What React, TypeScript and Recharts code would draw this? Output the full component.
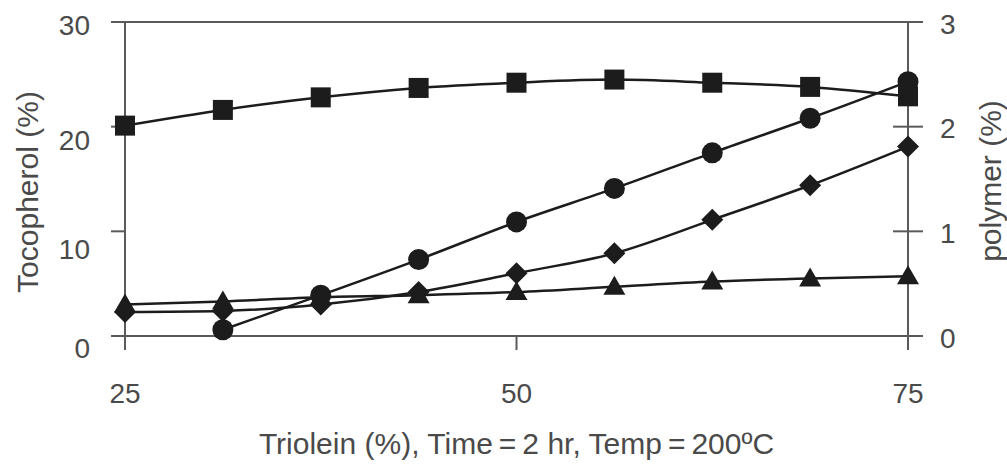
import React from "react";
import { LineChart, Line, XAxis, YAxis, ReferenceLine, Label } from "recharts";

// Triolein share of the blend (%)
const triolein = [25, 31.25, 37.5, 43.75, 50, 56.25, 62.5, 68.75, 75];
// Tocopherol (%), left axis
const tocopherol = [20.1, 21.6, 22.8, 23.7, 24.2, 24.5, 24.2, 23.8, 22.9];
// Polymer (%), right axis
const polymerCircle = [null, 0.06, 0.39, 0.73, 1.09, 1.41, 1.75, 2.08, 2.43];
const polymerDiamond = [0.23, 0.24, 0.3, 0.42, 0.6, 0.79, 1.11, 1.44, 1.81];
const polymerTriangle = [0.3, 0.33, 0.37, 0.39, 0.42, 0.47, 0.52, 0.55, 0.57];

const xTicks = [25, 50, 75];
const leftTicks = [0, 10, 20, 30];
const rightTicks = [0, 1, 2, 3];

const rows = triolein.map((x, i) => ({
    x,
    toco: tocopherol[i],
    circle: polymerCircle[i],
    diamond: polymerDiamond[i],
    triangle: polymerTriangle[i],
}));

const FONT = '"Liberation Sans", Arial, sans-serif';
const INK = "#1c1c1c";
const AXIS = "#5a5a5a";
const TEXT = "#4a4a4a";

// left labels sit a little below their tick marks
const leftLabelShift: Record<number, number> = { 0: 12, 10: 18, 20: 14, 30: 3 };

const LeftTick = (props: any) => {
    const { x, y, payload } = props;
    return (
        <text x={x} y={y + (leftLabelShift[payload.value] ?? 0)} textAnchor="end" dominantBaseline="central"
            fontFamily={FONT} fontSize={28} fill={TEXT}>
            {payload.value}
        </text>
    );
};

// right axis ticks cross the axis line
const RightTick = (props: any) => {
    const { x, y, payload } = props;
    const axisX = x - 17 - 15;
    return (
        <g>
            <line x1={axisX - 15} x2={axisX + 15} y1={y} y2={y} stroke={AXIS} strokeWidth={2} />
            <text x={x} y={y + 2} textAnchor="start" dominantBaseline="central"
                fontFamily={FONT} fontSize={28} fill={TEXT}>
                {payload.value}
            </text>
        </g>
    );
};

const squareDot = (p: any) =>
    p.cx == null || p.cy == null ? <g key={`s-${p.index}`} /> :
        <rect key={`s-${p.index}`} x={p.cx - 10} y={p.cy - 10} width={20} height={20} fill={INK} />;

const circleDot = (p: any) =>
    p.cx == null || p.cy == null || p.value == null ? <g key={`c-${p.index}`} /> :
        <circle key={`c-${p.index}`} cx={p.cx} cy={p.cy} r={10.5} fill={INK} />;

const diamondDot = (p: any) =>
    p.cx == null || p.cy == null ? <g key={`d-${p.index}`} /> :
        <polygon key={`d-${p.index}`} fill={INK}
            points={`${p.cx},${p.cy - 11} ${p.cx + 11},${p.cy} ${p.cx},${p.cy + 11} ${p.cx - 11},${p.cy}`} />;

const triangleDot = (p: any) =>
    p.cx == null || p.cy == null ? <g key={`t-${p.index}`} /> :
        <polygon key={`t-${p.index}`} fill={INK}
            points={`${p.cx},${p.cy - 11} ${p.cx + 11},${p.cy + 8} ${p.cx - 11},${p.cy + 8}`} />;

const leftTitle = (props: any) => {
    const vb = props.viewBox;
    const cx = vb.x + 27;
    const cy = vb.y + vb.height / 2 + 13;
    return (
        <text x={cx} y={cy} transform={`rotate(-90 ${cx} ${cy})`} textAnchor="middle" dominantBaseline="central"
            fontFamily={FONT} fontSize={30} fill={TEXT}>
            Tocopherol (%)
        </text>
    );
};

const rightTitle = (props: any) => {
    const vb = props.viewBox;
    const cx = vb.x + 82;
    const cy = vb.y + vb.height / 2 + 2;
    return (
        <text x={cx} y={cy} transform={`rotate(-90 ${cx} ${cy})`} textAnchor="middle" dominantBaseline="central"
            fontFamily={FONT} fontSize={30} fill={TEXT}>
            polymer (%)
        </text>
    );
};

export default function App() {
    return (
        <div style={{ position: "absolute", left: 0, top: 0, background: "#fff" }}>
            <LineChart width={1007} height={464} data={rows} margin={{ top: 22, right: 0, bottom: 0, left: 0 }}>
                <XAxis
                    dataKey="x"
                    type="number"
                    domain={[25, 75]}
                    ticks={xTicks}
                    height={128}
                    tickSize={14}
                    tickMargin={33}
                    stroke={AXIS}
                    strokeWidth={2}
                    tick={{ fontFamily: FONT, fontSize: 28, fill: TEXT }}
                >
                    <Label
                        value={"Triolein (%), Time\u2009=\u20092 hr, Temp\u2009=\u2009200\u00baC"}
                        position="insideBottom"
                        offset={10}
                        style={{ fontFamily: FONT, fontSize: 30, fill: TEXT }}
                    />
                </XAxis>
                <YAxis
                    yAxisId="left"
                    domain={[0, 30]}
                    ticks={leftTicks}
                    width={125}
                    tickSize={14}
                    tickMargin={21}
                    stroke={AXIS}
                    strokeWidth={2}
                    tick={<LeftTick />}
                >
                    <Label content={leftTitle} />
                </YAxis>
                <YAxis
                    yAxisId="right"
                    orientation="right"
                    domain={[0, 3]}
                    ticks={rightTicks}
                    width={99}
                    tickSize={15}
                    tickMargin={17}
                    tickLine={false}
                    stroke={AXIS}
                    strokeWidth={2}
                    tick={<RightTick />}
                >
                    <Label content={rightTitle} />
                </YAxis>
                <ReferenceLine yAxisId="left" y={30} stroke={AXIS} strokeWidth={2} />
                <Line yAxisId="left" type="monotone" dataKey="toco" stroke={INK} strokeWidth={2.5}
                    dot={squareDot} activeDot={false} isAnimationActive={false} />
                <Line yAxisId="right" type="monotone" dataKey="circle" stroke={INK} strokeWidth={2.5}
                    dot={circleDot} activeDot={false} isAnimationActive={false} />
                <Line yAxisId="right" type="monotone" dataKey="diamond" stroke={INK} strokeWidth={2.5}
                    dot={diamondDot} activeDot={false} isAnimationActive={false} />
                <Line yAxisId="right" type="monotone" dataKey="triangle" stroke={INK} strokeWidth={2.5}
                    dot={triangleDot} activeDot={false} isAnimationActive={false} />
            </LineChart>
        </div>
    );
}
